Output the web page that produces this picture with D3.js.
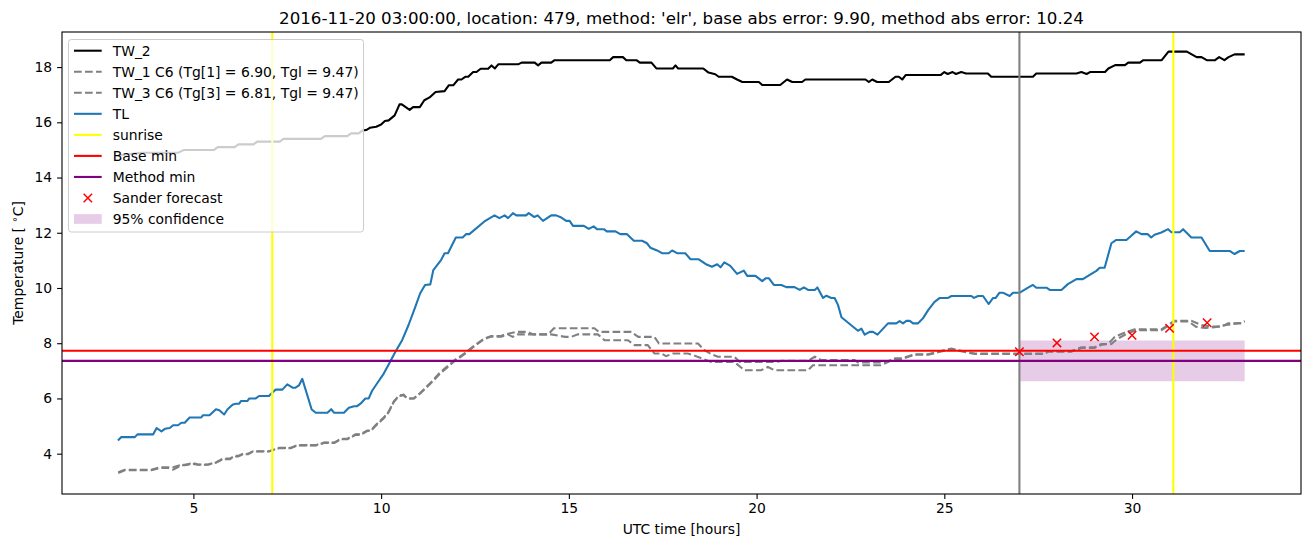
<!DOCTYPE html>
<html>
<head>
<meta charset="utf-8">
<script src="https://cdn.jsdelivr.net/npm/d3@7"></script>
<style>
  html, body { margin: 0; padding: 0; background: #fff; }
  svg { display: block; font-family: "DejaVu Sans", sans-serif; }
</style>
</head>
<body>
<svg id="chart" width="1311" height="547"></svg>
<script>
// ---------------- data ----------------
const xTicks = [5, 10, 15, 20, 25, 30];
const yTicks = [4, 6, 8, 10, 12, 14, 16, 18];

const titleText = "2016-11-20 03:00:00, location: 479, method: 'elr', base abs error: 9.90, method abs error: 10.24";

const tw2Time = [3.0,3.6,4.6,4.75,5.55,5.65,6.1,6.2,6.6,6.7,7.3,7.4,8.4,8.5,9.1,9.2,9.4,9.5,9.6,9.7,9.87,10.0,10.1,10.2,10.36,10.49,10.55,10.76,10.85,11.03,11.15,11.29,11.45,11.69,11.8,11.92,12.05,12.14,12.25,12.32,12.45,12.54,12.65,12.85,12.94,13.03,13.12,13.65,13.74,14.09,14.18,14.27,14.53,14.62,16.09,16.18,16.44,16.53,16.8,16.89,17.2,17.33,17.77,17.84,17.91,18.58,18.72,18.9,18.99,19.34,19.48,19.62,20.06,20.15,20.63,20.81,20.95,21.21,21.3,22.9,22.99,23.08,23.21,23.52,23.7,23.79,23.88,23.97,24.9,25.0,25.09,25.22,25.31,25.45,25.58,26.16,26.25,27.36,27.45,28.52,28.65,28.79,28.88,29.28,29.37,29.55,29.81,29.9,30.21,30.3,30.79,30.97,31.46,31.59,31.72,31.85,31.99,32.21,32.32,32.46,32.57,32.73,33.0];
const tw2Temp = [14.8,14.9,14.9,15.0,15.0,15.1,15.1,15.2,15.2,15.3,15.3,15.4,15.4,15.5,15.5,15.6,15.6,15.7,15.72,15.8,15.84,15.92,16.05,16.07,16.25,16.65,16.65,16.45,16.55,16.55,16.8,16.9,17.1,17.13,17.34,17.34,17.55,17.55,17.65,17.65,17.82,17.82,17.94,17.94,18.06,17.95,18.1,18.1,18.16,18.16,18.06,18.16,18.16,18.25,18.25,18.36,18.36,18.25,18.25,18.16,18.16,17.95,17.95,18.06,17.95,17.95,17.8,17.74,17.65,17.65,17.55,17.46,17.46,17.35,17.35,17.55,17.46,17.46,17.55,17.55,17.46,17.55,17.46,17.46,17.65,17.65,17.55,17.71,17.71,17.82,17.75,17.82,17.75,17.82,17.77,17.77,17.65,17.65,17.77,17.77,17.82,17.75,17.82,17.82,17.95,18.07,18.07,18.16,18.16,18.25,18.25,18.56,18.56,18.46,18.36,18.36,18.25,18.25,18.36,18.25,18.36,18.46,18.46];

const tw1Time = [3.0,3.17,3.88,4.1,4.33,4.46,4.68,4.77,4.99,5.12,5.39,5.61,5.79,5.97,6.1,6.19,6.33,6.46,6.59,7.01,7.28,7.59,7.77,8.26,8.48,8.75,8.93,9.1,9.32,9.45,9.63,9.72,9.85,10.07,10.2,10.34,10.47,10.6,10.69,10.87,11.04,11.31,11.57,11.96,12.22,12.49,12.75,12.93,13.2,13.3,13.6,13.9,14.05,14.45,14.6,15.68,15.8,16.66,16.85,17.28,17.4,18.44,18.61,18.8,18.97,19.41,19.55,20.48,20.66,21.37,21.55,21.73,22.61,22.7,23.41,23.68,23.86,24.21,24.57,24.83,25.19,25.36,25.81,26.87,27.67,27.76,28.38,28.65,29.0,29.18,29.36,29.54,29.8,30.07,30.78,30.96,31.13,31.58,31.85,32.11,32.38,32.56,32.91,33.0];
const tw1Temp = [3.33,3.42,3.42,3.51,3.51,3.51,3.6,3.6,3.66,3.61,3.61,3.69,3.82,3.82,3.92,3.92,4.0,4.0,4.09,4.09,4.21,4.21,4.31,4.31,4.4,4.4,4.54,4.54,4.7,4.7,4.84,4.84,5.03,5.31,5.52,5.9,6.1,6.14,6.0,6.0,6.2,6.56,6.94,7.39,7.63,7.93,8.17,8.26,8.26,8.32,8.41,8.41,8.32,8.32,8.54,8.54,8.41,8.41,8.23,8.23,7.99,7.99,7.75,7.6,7.51,7.51,7.32,7.32,7.36,7.36,7.51,7.39,7.39,7.3,7.3,7.45,7.45,7.6,7.6,7.69,7.81,7.75,7.63,7.63,7.63,7.71,7.71,7.85,7.85,7.97,7.97,8.23,8.38,8.5,8.5,8.66,8.81,8.81,8.66,8.6,8.6,8.72,8.72,8.8];

const tw3Time = [3.0,3.17,3.88,4.1,4.33,4.46,4.68,4.77,4.99,5.12,5.39,5.61,5.79,5.97,6.1,6.19,6.33,6.46,6.59,7.01,7.28,7.59,7.77,8.26,8.48,8.75,8.93,9.1,9.32,9.45,9.63,9.72,9.85,10.07,10.2,10.34,10.47,10.6,10.69,10.87,11.04,11.31,11.57,11.96,12.22,12.49,12.75,12.93,13.2,13.38,13.5,13.64,14.09,14.53,14.9,15.06,15.24,15.77,15.95,16.57,16.75,17.1,17.28,17.46,17.59,17.77,18.17,18.35,18.79,19.41,19.68,20.12,20.3,20.48,21.37,21.5,23.3,23.5,23.68,23.86,24.21,24.57,24.83,25.19,25.36,25.81,26.87,27.67,27.76,28.38,28.65,29.0,29.2,29.45,29.6,29.85,30.1,30.78,30.96,31.13,31.5,31.7,31.95,32.2,32.5,32.9,33.0];
const tw3Temp = [3.3,3.4,3.4,3.48,3.48,3.42,3.58,3.58,3.63,3.6,3.6,3.68,3.8,3.8,3.9,3.9,3.98,3.98,4.08,4.08,4.2,4.2,4.3,4.3,4.39,4.39,4.52,4.52,4.68,4.68,4.82,4.82,5.0,5.28,5.5,5.88,6.08,6.12,6.0,6.0,6.18,6.53,6.9,7.36,7.6,7.9,8.15,8.24,8.24,8.32,8.23,8.32,8.32,8.32,8.23,8.23,8.32,8.32,8.11,8.11,7.93,7.93,7.63,7.63,7.53,7.63,7.63,7.55,7.32,7.32,7.02,7.02,7.14,7.02,7.02,7.2,7.2,7.32,7.43,7.43,7.58,7.58,7.67,7.78,7.73,7.61,7.61,7.61,7.69,7.69,7.83,7.83,7.95,7.97,8.15,8.33,8.47,8.47,8.63,8.79,8.79,8.6,8.55,8.58,8.66,8.74,8.78];

const tlTime = [2.99,3.08,3.44,3.51,3.93,4.02,4.15,4.24,4.37,4.46,4.59,4.68,4.77,4.9,5.21,5.25,5.43,5.6,5.69,5.82,5.91,6.05,6.14,6.22,6.27,6.44,6.49,6.66,6.75,7.01,7.1,7.19,7.37,7.5,7.64,7.72,7.81,7.9,8.15,8.26,8.57,8.67,8.75,9.01,9.14,9.28,9.36,9.45,9.58,9.67,9.76,9.89,10.07,10.24,10.38,10.56,10.73,10.91,11.04,11.17,11.31,11.39,11.6,11.69,11.78,11.99,12.17,12.26,12.35,12.75,13.02,13.15,13.29,13.38,13.51,13.6,13.86,13.93,14.08,14.17,14.31,14.53,14.66,14.8,14.93,15.02,15.11,15.4,15.53,15.66,15.75,15.93,16.01,16.24,16.37,16.55,16.73,16.95,17.08,17.17,17.35,17.48,17.66,17.75,17.88,18.1,18.24,18.46,18.64,18.81,18.95,19.04,19.14,19.3,19.48,19.66,19.75,19.97,20.15,20.24,20.33,20.46,20.66,20.79,21.01,21.15,21.26,21.37,21.55,21.62,21.77,21.86,21.99,22.08,22.17,22.26,22.7,22.79,22.88,23.01,23.1,23.22,23.5,23.72,23.81,23.9,23.99,24.08,24.17,24.3,24.43,24.57,24.74,24.88,25.1,25.19,25.72,25.79,25.9,26.03,26.18,26.3,26.37,26.47,26.56,26.74,26.83,27.01,27.23,27.36,27.45,27.72,27.81,28.12,28.29,28.52,28.69,28.83,29.05,29.14,29.27,29.45,29.58,29.85,29.98,30.11,30.25,30.42,30.51,30.6,30.78,30.96,31.05,31.27,31.36,31.58,31.85,32.07,32.6,32.73,32.87,33.0];
const tlTemp = [4.48,4.6,4.6,4.7,4.7,4.93,4.81,4.9,4.93,5.03,5.03,5.12,5.12,5.31,5.31,5.39,5.39,5.61,5.57,5.42,5.61,5.78,5.81,5.81,5.91,5.91,6.0,6.0,6.09,6.09,6.21,6.32,6.32,6.51,6.39,6.39,6.47,6.71,5.6,5.48,5.48,5.61,5.48,5.48,5.66,5.72,5.72,5.81,6.0,6.0,6.28,6.54,6.9,7.33,7.69,8.11,8.66,9.32,9.81,10.11,10.13,10.65,11.02,11.26,11.26,11.83,11.83,11.95,11.95,12.41,12.63,12.53,12.63,12.53,12.71,12.63,12.63,12.71,12.57,12.63,12.43,12.63,12.63,12.55,12.43,12.43,12.25,12.25,12.14,12.23,12.13,12.13,12.05,12.05,11.95,11.95,11.71,11.71,11.62,11.46,11.36,11.26,11.26,11.36,11.26,11.26,11.04,11.04,10.87,10.77,10.86,10.75,10.93,10.8,10.51,10.63,10.44,10.44,10.25,10.35,10.35,10.11,10.11,10.03,10.03,9.93,10.02,9.93,9.93,10.02,9.64,9.72,9.64,9.64,9.38,8.94,8.45,8.53,8.31,8.41,8.41,8.31,8.72,8.72,8.8,8.72,8.81,8.81,8.72,8.72,8.9,9.2,9.5,9.64,9.64,9.71,9.71,9.64,9.71,9.71,9.42,9.64,9.64,9.83,9.83,9.71,9.83,9.83,10.01,10.11,10.01,10.01,9.93,9.93,10.14,10.32,10.32,10.44,10.62,10.73,10.73,11.62,11.74,11.74,11.89,12.05,11.95,11.95,11.83,11.93,12.01,12.13,12.02,12.02,12.13,11.83,11.83,11.34,11.34,11.23,11.34,11.34];

const sunriseTimes = [7.1, 31.1];
const nowTimes = [27];
const baseMin = [7.73];
const methodMin = [7.36];
const confTime = [27, 33];
const confLow = [6.62, 6.62];
const confHigh = [8.1, 8.1];
const sanderTime = [27, 28, 29, 30, 31, 32];
const sanderTemp = [7.69, 8.01, 8.23, 8.29, 8.54, 8.74];

const legendLabels = ["TW_2", "TW_1 C6 (Tg[1] = 6.90, Tgl = 9.47)", "TW_3 C6 (Tg[3] = 6.81, Tgl = 9.47)", "TL", "sunrise", "Base min", "Method min", "Sander forecast", "95% confidence"];

// ---------------- layout ----------------
const W = 1311, H = 547;
const M = { left: 62, right: 1301, top: 32, bottom: 494 };
const FONT = 13.9;
const svg = d3.select("#chart");

const x = d3.scaleLinear().domain([1.5, 34.5]).range([M.left, M.right]);
const y = d3.scaleLinear().domain([2.54, 19.27]).range([M.bottom, M.top]);

const zip = (t, v) => t.map((d, i) => [d, v[i]]);
const line = d3.line().x(d => x(d[0])).y(d => y(d[1]));

const plot = svg.append("g");

// confidence band
const area = d3.area().x(d => x(d[0])).y0(d => y(d[1])).y1(d => y(d[2]));
plot.append("path")
  .attr("d", area(confTime.map((t, i) => [t, confLow[i], confHigh[i]])))
  .attr("fill", "purple").attr("fill-opacity", 0.2);

// series
plot.append("path").attr("d", line(zip(tw2Time, tw2Temp)))
  .attr("fill", "none").attr("stroke", "black").attr("stroke-width", 2.08).attr("stroke-linejoin", "round");
plot.append("path").attr("d", line(zip(tw1Time, tw1Temp)))
  .attr("fill", "none").attr("stroke", "grey").attr("stroke-width", 2.08).attr("stroke-dasharray", "7.7,3.3");
plot.append("path").attr("d", line(zip(tw3Time, tw3Temp)))
  .attr("fill", "none").attr("stroke", "grey").attr("stroke-width", 2.08).attr("stroke-dasharray", "7.7,3.3");
plot.append("path").attr("d", line(zip(tlTime, tlTemp)))
  .attr("fill", "none").attr("stroke", "#1f77b4").attr("stroke-width", 2.08).attr("stroke-linejoin", "round");

// vertical lines
plot.selectAll(".sunrise").data(sunriseTimes).enter().append("line")
  .attr("x1", d => x(d)).attr("x2", d => x(d)).attr("y1", M.top).attr("y2", M.bottom)
  .attr("stroke", "yellow").attr("stroke-width", 2.08);
plot.selectAll(".now").data(nowTimes).enter().append("line")
  .attr("x1", d => x(d)).attr("x2", d => x(d)).attr("y1", M.top).attr("y2", M.bottom)
  .attr("stroke", "grey").attr("stroke-width", 2.08);

// horizontal lines
plot.selectAll(".base").data(baseMin).enter().append("line")
  .attr("x1", M.left).attr("x2", M.right).attr("y1", d => y(d)).attr("y2", d => y(d))
  .attr("stroke", "red").attr("stroke-width", 2.08);
plot.selectAll(".meth").data(methodMin).enter().append("line")
  .attr("x1", M.left).attr("x2", M.right).attr("y1", d => y(d)).attr("y2", d => y(d))
  .attr("stroke", "purple").attr("stroke-width", 2.08);

// sander markers
const ms = 4.2;
const sg = plot.selectAll(".sander").data(zip(sanderTime, sanderTemp)).enter().append("g")
  .attr("transform", d => `translate(${x(d[0])},${y(d[1])})`);
sg.append("path").attr("d", `M${-ms},${-ms}L${ms},${ms}M${-ms},${ms}L${ms},${-ms}`)
  .attr("stroke", "red").attr("stroke-width", 1.5).attr("fill", "none");

// axes frame
svg.append("rect").attr("x", M.left).attr("y", M.top)
  .attr("width", M.right - M.left).attr("height", M.bottom - M.top)
  .attr("fill", "none").attr("stroke", "black").attr("stroke-width", 1.1);

// x axis
const xAxis = d3.axisBottom(x).tickValues(xTicks).tickSize(4.9).tickPadding(4.9).tickFormat(d3.format("d"));
const gx = svg.append("g").attr("transform", `translate(0,${M.bottom})`).call(xAxis);
gx.select(".domain").remove();
gx.selectAll(".tick line").attr("stroke", "black").attr("stroke-width", 1.1);
gx.selectAll(".tick text").attr("font-size", FONT).attr("font-family", "DejaVu Sans").attr("fill", "black").attr("dy", "0.68em");

// y axis
const yAxis = d3.axisLeft(y).tickValues(yTicks).tickSize(4.9).tickPadding(4.9).tickFormat(d3.format("d"));
const gy = svg.append("g").attr("transform", `translate(${M.left},0)`).call(yAxis);
gy.select(".domain").remove();
gy.selectAll(".tick line").attr("stroke", "black").attr("stroke-width", 1.1);
gy.selectAll(".tick text").attr("font-size", FONT).attr("font-family", "DejaVu Sans").attr("fill", "black");

// labels
svg.append("text").attr("x", (M.left + M.right) / 2).attr("y", 24).attr("text-anchor", "middle")
  .attr("font-size", 16.67).attr("fill", "black").text(titleText);
svg.append("text").attr("x", (M.left + M.right) / 2).attr("y", 533.5).attr("text-anchor", "middle")
  .attr("font-size", FONT).attr("fill", "black").text("UTC time [hours]");
const yl = svg.append("text").attr("transform", `translate(22.5,${(M.top + M.bottom) / 2}) rotate(-90)`)
  .attr("text-anchor", "middle").attr("font-size", FONT).attr("fill", "black");
yl.append("tspan").text("Temperature [ ");
yl.append("tspan").attr("font-size", 10).attr("dy", -5).text("\u2218");
yl.append("tspan").attr("dy", 5).text("C]");

// legend
const lg = svg.append("g");
lg.append("rect").attr("x", 68.5).attr("y", 39.5).attr("width", 295).attr("height", 192.5)
  .attr("rx", 2.8).attr("fill", "white").attr("fill-opacity", 0.8)
  .attr("stroke", "#cccccc").attr("stroke-width", 1);
const rowY = i => 50.7 + i * 21.04;
const hx0 = 74, hx1 = 101.7;
const styles = [
  { type: "line", color: "black" },
  { type: "line", color: "grey", dash: "7.7,3.3" },
  { type: "line", color: "grey", dash: "7.7,3.3" },
  { type: "line", color: "#1f77b4" },
  { type: "line", color: "yellow" },
  { type: "line", color: "red" },
  { type: "line", color: "purple" },
  { type: "marker", color: "red" },
  { type: "patch", color: "purple" }
];
legendLabels.forEach((lab, i) => {
  const cy = rowY(i), s = styles[i];
  if (s.type === "line") {
    lg.append("line").attr("x1", hx0).attr("x2", hx1).attr("y1", cy).attr("y2", cy)
      .attr("stroke", s.color).attr("stroke-width", 2.08).attr("stroke-dasharray", s.dash || null);
  } else if (s.type === "marker") {
    const cx = (hx0 + hx1) / 2;
    lg.append("path").attr("d", `M${cx - ms},${cy - ms}L${cx + ms},${cy + ms}M${cx - ms},${cy + ms}L${cx + ms},${cy - ms}`)
      .attr("stroke", "red").attr("stroke-width", 1.5);
  } else {
    lg.append("rect").attr("x", hx0).attr("y", cy - 4.9).attr("width", hx1 - hx0).attr("height", 9.7)
      .attr("fill", "purple").attr("fill-opacity", 0.2);
  }
  lg.append("text").attr("x", 112.7).attr("y", cy + 5).attr("font-size", FONT).attr("fill", "black").text(lab);
});
</script>
</body>
</html>
